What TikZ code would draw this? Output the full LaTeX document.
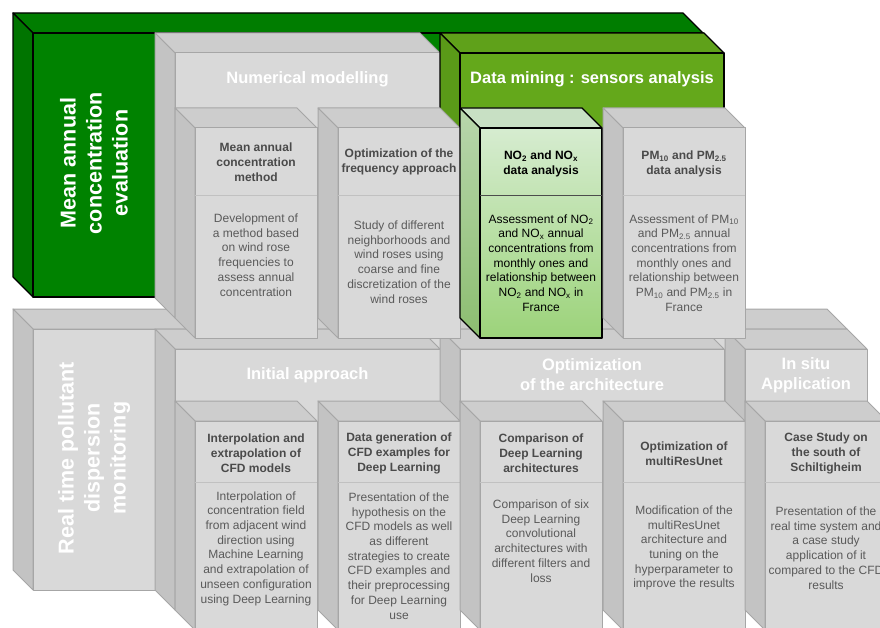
\documentclass[tikz,border=0pt]{standalone}
\usepackage{fontspec}
\setmainfont{Liberation Sans}
\usetikzlibrary{positioning}

\definecolor{grayfront}{HTML}{D9D9D9}
\definecolor{grayside}{HTML}{C3C3C3}
\definecolor{graytop}{HTML}{CDCDCD}
\definecolor{grayline}{HTML}{A6A6A6}
\definecolor{darkgreen}{HTML}{008200}
\definecolor{darkgreenside}{HTML}{007400}
\definecolor{darkgreentop}{HTML}{007D00}
\definecolor{midgreen}{HTML}{64A81B}
\definecolor{midgreenside}{HTML}{5A9A18}
\definecolor{midgreentop}{HTML}{5FA11A}
\definecolor{ttlgray}{HTML}{4A4A4A}
\definecolor{bodygray}{HTML}{5A5A5A}

% 3d box: #1 style, #2 x1, #3 y1 (front top left), #4 x2, #5 y2 (front bottom right)
\newcommand{\drawbox}[5]{%
  \filldraw[#1 top] (#2,#3) -- (#2-20,#3-20) -- (#4-20,#3-20) -- (#4,#3) -- cycle;
  \filldraw[#1 side] (#2,#3) -- (#2-20,#3-20) -- (#2-20,#5-20) -- (#2,#5) -- cycle;
  \filldraw[#1 front] (#2,#3) rectangle (#4,#5);
}

\begin{document}
\begin{tikzpicture}[
        x=1pt, y=-1pt,
        line join=round,
        gbox top/.style={fill=graytop, draw=grayline, line width=1pt},
        gbox side/.style={fill=grayside, draw=grayline, line width=1pt},
        gbox front/.style={fill=grayfront, draw=grayline, line width=1pt},
        dkbox top/.style={fill=darkgreentop, draw=black, line width=1.2pt},
        dkbox side/.style={fill=darkgreenside, draw=black, line width=1.2pt},
        dkbox front/.style={fill=darkgreen, draw=black, line width=1.2pt},
        mdbox top/.style={fill=midgreentop, draw=black, line width=1.2pt},
        mdbox side/.style={fill=midgreenside, draw=black, line width=1.2pt},
        mdbox front/.style={fill=midgreen, draw=black, line width=1.2pt},
        ltbox top/.style={fill={rgb,255:red,200;green,224;blue,196}, draw=black, line width=1.2pt},
        ltbox side/.style={top color={rgb,255:red,184;green,214;blue,172}, bottom color={rgb,255:red,140;green,190;blue,112}, draw=black, line width=1.2pt},
        ltbox front/.style={top color={rgb,255:red,214;green,236;blue,208}, bottom color={rgb,255:red,156;green,211;blue,122}, draw=black, line width=1.2pt},
        sep/.style={draw=grayline!70, line width=0.8pt},
        bigttl/.style={font=\bfseries\fontsize{21.5}{26}\selectfont, text=white, align=center, rotate=90},
        boxttl/.style={font=\bfseries\fontsize{16.5}{20}\selectfont, text=white, align=center},
        ttl/.style={font=\bfseries\fontsize{12}{15}\selectfont, text=ttlgray, align=center},
        body/.style={font=\fontsize{12}{14.7}\selectfont, text=bodygray, align=center},
    ]
    \useasboundingbox (0,0) rectangle (880,628);
    \clip (0,0) rectangle (880,628);

    % outer boxes
    \drawbox{dkbox}{33}{33}{703}{297}
    \drawbox{gbox}{33}{329}{847}{590}

    \drawbox{gbox}{175}{53}{440}{318}
    \drawbox{mdbox}{460}{53}{724}{318}
    \drawbox{gbox}{175}{349}{440}{610}
    \drawbox{gbox}{460}{349}{724}{610}
    \drawbox{gbox}{745}{349}{867}{610}

    % upper inner boxes
    \drawbox{gbox}{195}{128}{317}{338}
    \draw[sep] (195,195) -- (317,195);
    \drawbox{gbox}{338}{128}{460}{338}
    \draw[sep] (338,195) -- (460,195);
    \drawbox{ltbox}{480}{128}{602}{338}
    \draw[draw=black!70, line width=0.8pt] (480,195) -- (602,195);
    \drawbox{gbox}{623}{128}{745}{338}
    \draw[sep] (623,195) -- (745,195);

    % lower inner boxes
    \drawbox{gbox}{195}{421}{317}{630}
    \draw[sep] (195,482) -- (317,482);
    \drawbox{gbox}{338}{421}{460}{630}
    \draw[sep] (338,482) -- (460,482);
    \drawbox{gbox}{480}{421}{602}{630}
    \draw[sep] (480,482) -- (602,482);
    \drawbox{gbox}{623}{421}{745}{630}
    \draw[sep] (623,482) -- (745,482);
    \drawbox{gbox}{765}{421}{887}{630}
    \draw[sep] (765,482) -- (887,482);

    % titles
    \node[bigttl] (mae) at (94,163) {Mean annual\\concentration\\evaluation};
    \node[bigttl] (rtm) at (94,458) {Real time pollutant\\dispersion\\monitoring};
    \node[boxttl] (num) at (307.5,79) {Numerical modelling};
    \node[boxttl] (dm) at (592,79) {Data mining : sensors analysis};
    \node[boxttl] (ia) at (307.5,375) {Initial approach};
    \node[boxttl] (oa) at (592,375) {Optimization\\of the architecture};
    \node[boxttl] (is) at (806,375) {In situ\\Application};

    % upper row
    \node[ttl] (mam) at (256,162) {Mean annual\\concentration\\method};
    \node[body] (mamb) at (256,255) {Development of\\a method based\\on wind rose\\frequencies to\\assess annual\\concentration};
    \node[ttl] (ofa) at (399,162) {Optimization of the\\frequency approach};
    \node[body] (ofab) at (399,262) {Study of different\\neighborhoods and\\wind roses using\\coarse and fine\\discretization of the\\wind roses};
    \node[ttl, text=black] (no) at (541,164) {NO\textsubscript{2} and NO\textsubscript{x}\\data analysis};
    \node[body, text=black] (nob) at (541,263) {Assessment of NO\textsubscript{2}\\and NO\textsubscript{x} annual\\concentrations from\\monthly ones and\\relationship between\\NO\textsubscript{2} and NO\textsubscript{x} in\\France};
    \node[ttl] (pm) at (684,164) {PM\textsubscript{10} and PM\textsubscript{2.5}\\data analysis};
    \node[body] (pmb) at (684,263) {Assessment of PM\textsubscript{10}\\and PM\textsubscript{2.5} annual\\concentrations from\\monthly ones and\\relationship between\\PM\textsubscript{10} and PM\textsubscript{2.5} in\\France};

    % lower row
    \node[ttl] (iec) at (256,453) {Interpolation and\\extrapolation of\\CFD models};
    \node[body] (iecb) at (256,548.5) {Interpolation of\\concentration field\\from adjacent wind\\direction using\\Machine Learning\\and extrapolation of\\unseen configuration\\using Deep Learning};
    \node[ttl] (dgc) at (399,453) {Data generation of\\CFD examples for\\Deep Learning};
    \node[body] (dgcb) at (399,556) {Presentation of the\\hypothesis on the\\CFD models as well\\as different\\strategies to create\\CFD examples and\\their preprocessing\\for Deep Learning\\use};
    \node[ttl] (cdl) at (541,453) {Comparison of\\Deep Learning\\architectures};
    \node[body] (cdlb) at (541,541) {Comparison of six\\Deep Learning\\convolutional\\architectures with\\different filters and\\loss};
    \node[ttl] (omr) at (684,453.5) {Optimization of\\multiResUnet};
    \node[body] (omrb) at (684,548) {Modification of the\\multiResUnet\\architecture and\\tuning on the\\hyperparameter to\\improve the results};
    \node[ttl] (css) at (826,453) {Case Study on\\the south of\\Schiltigheim};
    \node[body] (cssb) at (826,548) {Presentation of the\\real time system and\\a case study\\application of it\\compared to the CFD\\results};
\end{tikzpicture}
\end{document}
